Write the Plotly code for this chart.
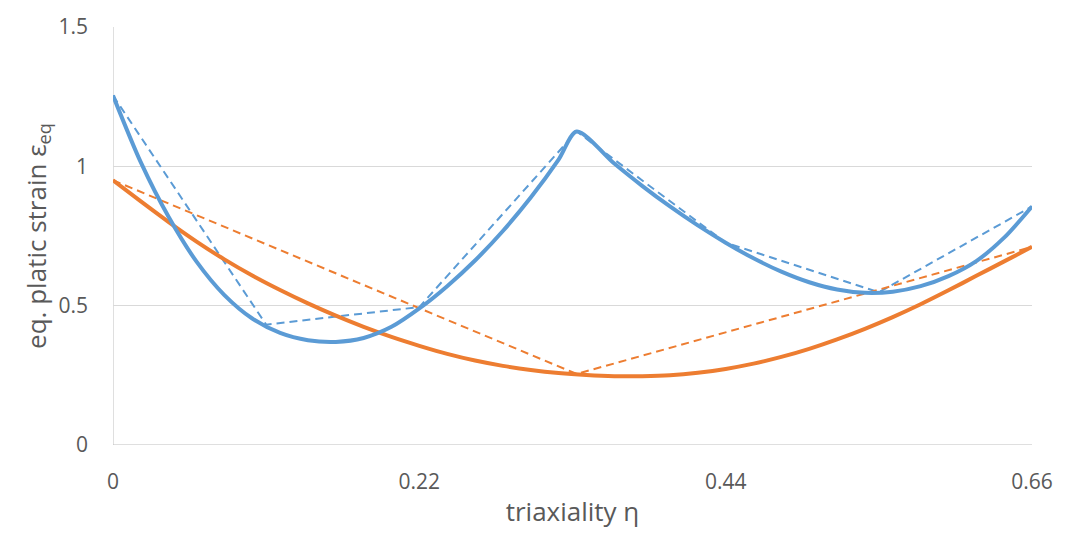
import plotly.graph_objects as go

# --- data ---
eta_blue = [0.0, 0.02, 0.04, 0.06, 0.08, 0.10, 0.12, 0.14, 0.16, 0.18, 0.20, 0.22,
            0.24, 0.26, 0.28, 0.30, 0.32, 0.333, 0.36, 0.38, 0.40, 0.42, 0.44, 0.46,
            0.48, 0.50, 0.52, 0.54, 0.56, 0.58, 0.60, 0.62, 0.64, 0.66]
blue_fine = [1.254, 1.014, 0.818, 0.658, 0.538, 0.454, 0.402, 0.376, 0.370, 0.384, 0.424, 0.490,
             0.570, 0.662, 0.768, 0.888, 1.024, 1.125, 1.010, 0.930, 0.856, 0.788, 0.726, 0.670,
             0.622, 0.584, 0.558, 0.546, 0.550, 0.570, 0.606, 0.660, 0.744, 0.856]
eta_orange = [0.0, 0.02, 0.04, 0.06, 0.08, 0.10, 0.12, 0.14, 0.16, 0.18, 0.20, 0.22,
              0.24, 0.26, 0.28, 0.30, 0.32, 0.34, 0.36, 0.38, 0.40, 0.42, 0.44, 0.46,
              0.48, 0.50, 0.52, 0.54, 0.56, 0.58, 0.60, 0.62, 0.64, 0.66]
orange_fine = [0.950, 0.874, 0.800, 0.730, 0.666, 0.608, 0.556, 0.508, 0.464, 0.424, 0.388, 0.356,
               0.327, 0.303, 0.284, 0.269, 0.258, 0.251, 0.247, 0.247, 0.250, 0.259, 0.273, 0.292,
               0.316, 0.345, 0.379, 0.417, 0.459, 0.505, 0.555, 0.607, 0.659, 0.711]

eta_blue_coarse = [0.0, 0.11, 0.22, 0.333, 0.44, 0.55, 0.66]
blue_coarse = [1.254, 0.432, 0.495, 1.125, 0.726, 0.548, 0.856]

eta_orange_coarse = [0.0, 0.333, 0.66]
orange_coarse = [0.950, 0.255, 0.711]

x_ticks = [0, 0.22, 0.44, 0.66]
y_ticks = [0, 0.5, 1, 1.5]

BLUE = "#5B9BD5"
ORANGE = "#ED7D31"
TEXT = "#595959"

fig = go.Figure()

fig.add_trace(go.Scatter(x=eta_blue_coarse, y=blue_coarse, mode="lines",
                         line=dict(color=BLUE, width=2, dash="8px,5px"), showlegend=False))
fig.add_trace(go.Scatter(x=eta_orange_coarse, y=orange_coarse, mode="lines",
                         line=dict(color=ORANGE, width=2, dash="8px,5px"), showlegend=False))
fig.add_trace(go.Scatter(x=eta_orange, y=orange_fine, mode="lines",
                         line=dict(color=ORANGE, width=4, shape="spline", smoothing=0.8),
                         showlegend=False))
# split the blue solid curve at its peak to keep the sharp corner
peak = blue_fine.index(max(blue_fine))
fig.add_trace(go.Scatter(x=eta_blue[:peak + 1], y=blue_fine[:peak + 1], mode="lines",
                         line=dict(color=BLUE, width=4, shape="spline", smoothing=0.8),
                         showlegend=False))
fig.add_trace(go.Scatter(x=eta_blue[peak:], y=blue_fine[peak:], mode="lines",
                         line=dict(color=BLUE, width=4, shape="spline", smoothing=0.8),
                         showlegend=False))

font_family = "Open Sans, Noto Sans, sans-serif"
fig.update_layout(
    width=1074, height=533,
    margin=dict(l=113, r=42, t=20, b=87),
    paper_bgcolor="white", plot_bgcolor="white",
    font=dict(family=font_family, color=TEXT, size=21),
    xaxis=dict(range=[0, 0.66], tickvals=x_ticks, ticktext=[f"{v:g}" for v in x_ticks],
               showgrid=False, zeroline=False, showline=False,
               ticks="", ticklabelstandoff=22,
               title=dict(text="triaxiality η", font=dict(size=26, color=TEXT), standoff=8)),
    yaxis=dict(range=[0, 1.5], tickvals=y_ticks, ticktext=[f"{v:g}" for v in y_ticks],
               showgrid=True, gridcolor="#D9D9D9", gridwidth=1,
               zeroline=False, showline=False, ticks="", ticklabelstandoff=24,
               title=dict(text="eq. platic strain ε<sub>eq</sub>",
                          font=dict(size=26, color=TEXT), standoff=4)),
)
# axis lines at x=0 and y=0
fig.add_shape(type="line", xref="x", yref="y", x0=0, x1=0, y0=0, y1=1.5,
              line=dict(color="#BFBFBF", width=1), layer="below")
fig.add_shape(type="line", xref="x", yref="y", x0=0, x1=0.66, y0=0, y1=0,
              line=dict(color="#BFBFBF", width=1), layer="below")

fig.write_html("out.html")
